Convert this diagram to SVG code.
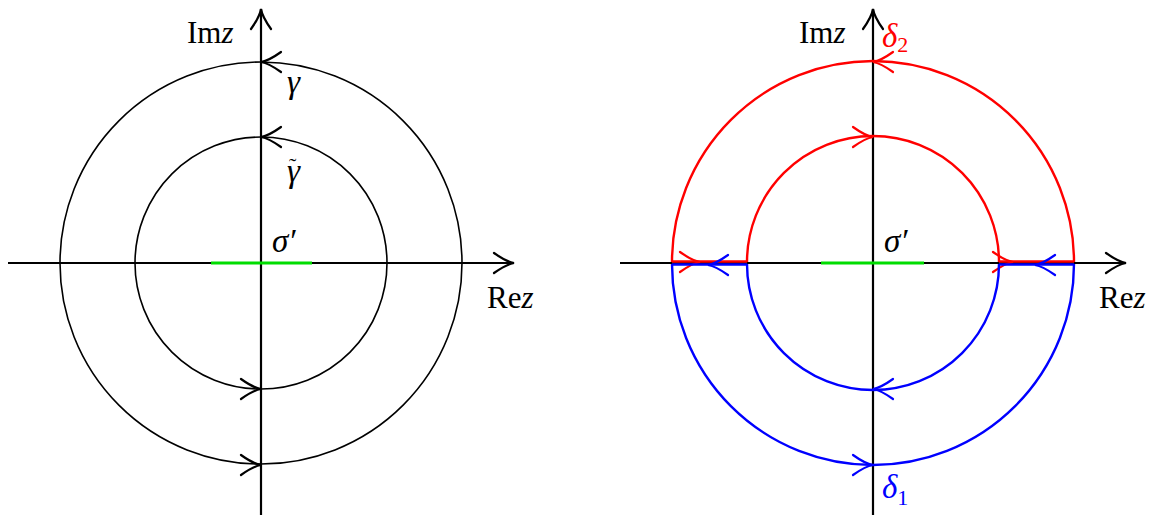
<svg xmlns="http://www.w3.org/2000/svg" width="1161" height="515" viewBox="0 0 1161 515">
<style>
.ax{stroke:#000;stroke-width:2.2;fill:none}
.c{stroke:#000;stroke-width:1.6;fill:none}
.r{stroke:#f00;stroke-width:2.4;fill:none}
.b{stroke:#00f;stroke-width:2.4;fill:none}
.g{stroke:#0d0;stroke-width:3.2}
.t{font-family:'Liberation Serif',serif;font-size:31px}
.gk{font-family:'Liberation Serif',serif;font-style:italic;font-size:33px}
</style>
<defs>
<path id="ah" d="M-20,-10 C-13,-5 -6,-1 0,0 C-6,1 -13,5 -20,10" fill="none" stroke-width="2.2" stroke-linecap="round"/>
</defs>
<g id="left">
<g id="left-axes">
<line class="ax" x1="8" y1="263" x2="514" y2="263"/>
<line class="ax" x1="261" y1="515" x2="261" y2="9"/>
<use href="#ah" stroke="#000" transform="translate(514,263)"/>
<use href="#ah" stroke="#000" transform="translate(261,9) rotate(-90)"/>
</g>
<g id="left-outer">
<circle class="c" cx="261" cy="263" r="201"/>
<use href="#ah" stroke="#000" transform="translate(261,62) rotate(180)"/>
<use href="#ah" stroke="#000" transform="translate(261,465)"/>
</g>
<g id="left-inner">
<circle class="c" cx="261" cy="263" r="126"/>
<use href="#ah" stroke="#000" transform="translate(261,137) rotate(180)"/>
<use href="#ah" stroke="#000" transform="translate(261,389)"/>
</g>
<line id="left-sigma" class="g" x1="211" y1="263" x2="312" y2="263"/>
<text class="t" x="187" y="43">Im<tspan font-style="italic">z</tspan></text>
<text class="t" x="487" y="308">Re<tspan font-style="italic">z</tspan></text>
<text class="gk" x="287" y="93">γ</text>
<text class="gk" x="287" y="182">γ<tspan font-style="normal" font-size="22" dx="-11" dy="-9">˜</tspan></text>
<text class="gk" x="272" y="252">σ′</text>
</g>
<g id="right">
<g id="right-axes">
<line class="ax" x1="620" y1="263" x2="1126" y2="263"/>
<line class="ax" x1="873" y1="515" x2="873" y2="9"/>
<use href="#ah" stroke="#000" transform="translate(1126,263)"/>
<use href="#ah" stroke="#000" transform="translate(873,9) rotate(-90)"/>
</g>
<g id="delta2">
<path class="r" d="M672,262 A201,201 0 0 1 1074,262 M747,262 A126,126 0 0 1 999,262 M672,261.5 H747 M999,261.5 H1074"/>
<use href="#ah" stroke="#f00" transform="translate(873,62) rotate(180)"/>
<use href="#ah" stroke="#f00" transform="translate(873,137)"/>
<use href="#ah" stroke="#f00" transform="translate(700,262)"/>
<use href="#ah" stroke="#f00" transform="translate(1013,262)"/>
</g>
<g id="delta1">
<path class="b" d="M672,264 A201,201 0 0 0 1074,264 M747,264 A126,126 0 0 0 999,264 M672,264.5 H747 M999,264.5 H1074"/>
<use href="#ah" stroke="#00f" transform="translate(873,389) rotate(180)"/>
<use href="#ah" stroke="#00f" transform="translate(873,465)"/>
<use href="#ah" stroke="#00f" transform="translate(708,265) rotate(180)"/>
<use href="#ah" stroke="#00f" transform="translate(1035,265) rotate(180)"/>
</g>
<line id="right-sigma" class="g" x1="821" y1="263" x2="924" y2="263"/>
<text class="t" x="799" y="43">Im<tspan font-style="italic">z</tspan></text>
<text class="t" x="1099" y="308">Re<tspan font-style="italic">z</tspan></text>
<text class="gk" x="884" y="252">σ′</text>
<text class="gk" x="882" y="47" fill="#f00">δ<tspan font-style="normal" font-size="22" dy="5">2</tspan></text>
<text class="gk" x="882" y="498" fill="#00f">δ<tspan font-style="normal" font-size="22" dy="7">1</tspan></text>
</g>
</svg>
